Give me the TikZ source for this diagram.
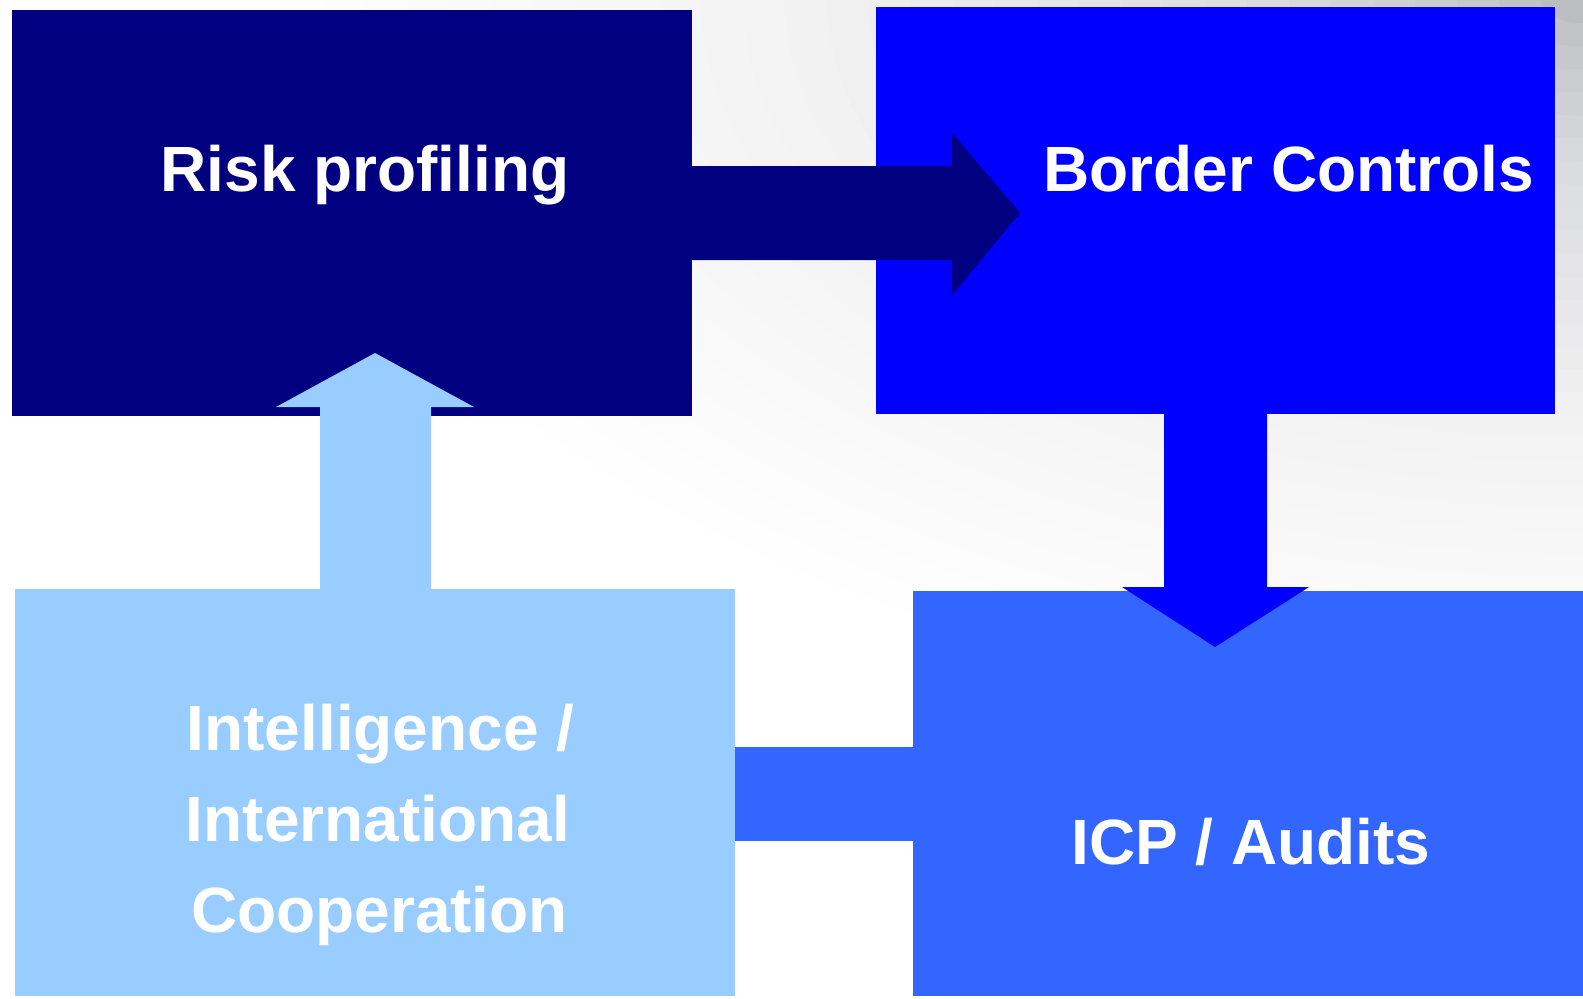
\documentclass[tikz,border=0pt]{standalone}
\usepackage{fontspec}
\setmainfont{Liberation Sans}
\usetikzlibrary{fit}
\definecolor{navyc}{HTML}{000080}
\definecolor{bluec}{HTML}{0000FF}
\definecolor{lightc}{HTML}{99CCFF}
\definecolor{midc}{HTML}{3366FF}
\definecolor{shadec}{rgb}{0.38,0.40,0.44}
\tikzset{
  box/.style={inner sep=0pt, outer sep=0pt, draw=none},
  lbl/.style={text=white, font=\bfseries\fontsize{32}{45.5}\selectfont, align=center, inner sep=0pt},
}
\begin{document}
\begin{tikzpicture}[x=0.5pt,y=-0.5pt]
\useasboundingbox (0,0) rectangle (1583,998);
\fill[white] (0,0) rectangle (1583,998);
\begin{scope}
\clip (0,0) rectangle (1583,998);
\foreach \r in {1800,1770,...,30} {
  \pgfmathsetmacro\va{1-0.17*exp(-(\r-30)/200)-0.07*exp(-(\r-30)/1000)*max(0,1-(\r-30)/1800)}
  \pgfmathsetmacro\vb{1-0.17*exp(-\r/200)-0.07*exp(-\r/1000)*max(0,1-\r/1800)}
  \pgfmathsetmacro\op{max(0,min(1,(1-\va/\vb)/0.6))}
  \fill[shadec, fill opacity=\op] (1583,0) ellipse [x radius=1.4*\r, y radius=\r/1.3];
}
\end{scope}
% boxes
\node[box, fill=navyc, fit={(12,10)(692,416)}] (rp) {};
\node[box, fill=bluec, fit={(876,7)(1555,414)}] (bc) {};
\node[box, fill=lightc, fit={(15,589)(735,996)}] (ic) {};
\node[box, fill=midc, fit={(913,591)(1583,996)}] (au) {};
% labels
\node[lbl] (rpt) at (365,175) {Risk profiling};
\node[lbl] (bct) at (1289,169) {Border Controls};
\node[lbl] (aut) at (1251,842) {ICP / Audits};
\node[lbl] (ict) at (378,825) {\hspace*{2.5pt}Intelligence /\\International\hspace*{5.5pt}\\\hspace*{1.5pt}Cooperation};
% connector bar between intelligence and audits
\fill[midc] (ic.east |- 0,747) rectangle (au.west |- 0,841);
% arrow risk -> border
\fill[navyc] (rp.east |- 0,166) -- (952,166) -- (952,133) -- (1020,213) -- (952,295) -- (952,260) -- (rp.east |- 0,260) -- cycle;
% arrow border -> audits
\fill[bluec] (1164,0 |- bc.south) -- (1164,587) -- (1122,587) -- (1215,647) -- (1309,587) -- (1267,587) -- (1267,0 |- bc.south) -- cycle;
% arrow intelligence -> risk
\fill[lightc] (320,0 |- ic.north) -- (320,407) -- (276,407) -- (375,353) -- (474,407) -- (431,407) -- (431,0 |- ic.north) -- cycle;
\end{tikzpicture}
\end{document}
